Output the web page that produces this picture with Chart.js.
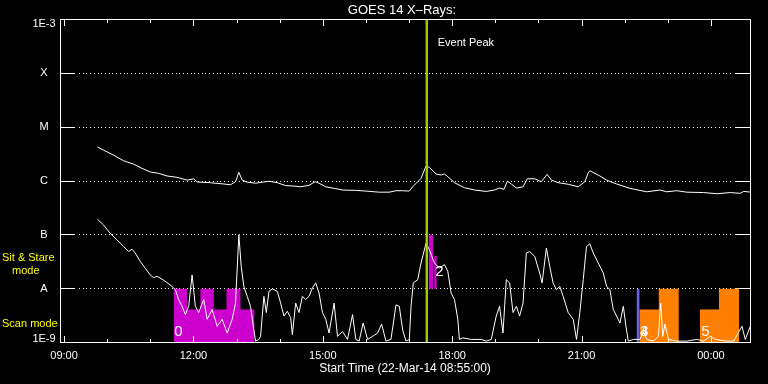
<!DOCTYPE html>
<html>
<head>
<meta charset="utf-8">
<title>GOES 14 X-Rays</title>
<script src="https://cdn.jsdelivr.net/npm/chart.js@4.4.0/dist/chart.umd.min.js"></script>
<style>
  html, body { margin: 0; padding: 0; background: #000; }
  #wrap { width: 768px; height: 384px; }
</style>
</head>
<body>
<div id="wrap"><canvas id="goesChart" width="768" height="384"></canvas></div>
<script>
// times are hours from 00:00 on 22-Mar-14 (values above 24 belong to the next day)
const startHour = 8 + 55 / 60;   // 08:55
const endHour = startHour + 16;

// 1-8 A channel (upper curve), W/m^2
const longTimes = [9.773, 9.912, 10.145, 10.377, 10.61, 10.805, 11.0, 11.191, 11.386, 11.619, 11.852, 12.005, 12.084, 12.393, 12.703, 12.858, 12.975, 13.052, 13.13, 13.247, 13.44, 13.596, 13.75, 13.945, 14.138, 14.293, 14.486, 14.68, 14.819, 14.912, 15.068, 15.3, 15.456, 15.765, 15.998, 16.307, 16.54, 16.696, 16.852, 17.005, 17.084, 17.2, 17.277, 17.393, 17.47, 17.625, 17.742, 17.819, 17.898, 18.052, 18.284, 18.517, 18.789, 18.982, 19.098, 19.2, 19.277, 19.37, 19.487, 19.642, 19.742, 19.912, 20.068, 20.2, 20.3, 20.456, 20.689, 20.921, 21.075, 21.154, 21.191, 21.424, 21.58, 21.812, 22.122, 22.51, 22.819, 22.975, 23.207, 23.44, 23.828, 24.137, 24.447, 24.68, 24.758, 24.944];
const longFlux = [4.3e-6, 3.75e-6, 3.03e-6, 2.38e-6, 2.06e-6, 1.72e-6, 1.47e-6, 1.39e-6, 1.24e-6, 1.17e-6, 1.04e-6, 1.1e-6, 9.6e-7, 9.3e-7, 8.8e-7, 8.5e-7, 9.7e-7, 1.45e-6, 1.04e-6, 9.5e-7, 9.1e-7, 9.5e-7, 9.9e-7, 9.3e-7, 8.2e-7, 8.1e-7, 7.8e-7, 8.3e-7, 9.7e-7, 9.1e-7, 7.8e-7, 7.2e-7, 6.8e-7, 6.7e-7, 6.5e-7, 6.2e-7, 6.2e-7, 6.6e-7, 6.6e-7, 6.5e-7, 7.8e-7, 9.7e-7, 1.12e-6, 1.9e-6, 1.79e-6, 1.35e-6, 1.29e-6, 1.35e-6, 1.2e-6, 9.3e-7, 7.5e-7, 6.8e-7, 6.4e-7, 6.8e-7, 7.4e-7, 7.0e-7, 9.9e-7, 8.8e-7, 7.4e-7, 7.8e-7, 1.1e-6, 1.1e-6, 9.7e-7, 1.33e-6, 1.04e-6, 9.3e-7, 8.7e-7, 7.8e-7, 9.7e-7, 1.42e-6, 1.55e-6, 1.24e-6, 1.04e-6, 8.8e-7, 7.3e-7, 6.3e-7, 6.8e-7, 6.3e-7, 6.6e-7, 6.2e-7, 6.1e-7, 5.8e-7, 6.1e-7, 5.9e-7, 6.4e-7, 6.2e-7];

// 0.5-4 A channel (lower curve), W/m^2
const shortTimes = [9.773, 9.912, 10.068, 10.224, 10.377, 10.494, 10.573, 10.649, 10.766, 10.882, 10.998, 11.075, 11.154, 11.27, 11.386, 11.503, 11.58, 11.656, 11.735, 11.812, 11.889, 11.968, 12.044, 12.121, 12.238, 12.316, 12.433, 12.549, 12.665, 12.782, 12.898, 12.975, 13.052, 13.107, 13.168, 13.247, 13.323, 13.401, 13.44, 13.517, 13.556, 13.633, 13.689, 13.75, 13.828, 13.945, 14.021, 14.098, 14.177, 14.254, 14.293, 14.37, 14.447, 14.526, 14.603, 14.68, 14.758, 14.835, 14.912, 14.991, 15.068, 15.144, 15.261, 15.34, 15.456, 15.572, 15.689, 15.765, 15.842, 15.935, 16.037, 16.154, 16.27, 16.363, 16.463, 16.58, 16.696, 16.773, 16.852, 16.928, 17.005, 17.045, 17.098, 17.2, 17.277, 17.393, 17.47, 17.587, 17.703, 17.819, 17.898, 17.974, 18.052, 18.13, 18.167, 18.245, 18.44, 18.672, 18.789, 18.905, 19.021, 19.098, 19.177, 19.254, 19.331, 19.41, 19.487, 19.563, 19.642, 19.719, 19.796, 19.912, 20.028, 20.084, 20.184, 20.261, 20.339, 20.416, 20.493, 20.572, 20.689, 20.805, 20.882, 20.959, 21.038, 21.114, 21.191, 21.27, 21.386, 21.503, 21.58, 21.656, 21.735, 21.812, 21.889, 21.968, 22.028, 22.084, 22.2, 22.354, 22.433, 22.51, 22.665, 22.782, 22.835, 22.882, 22.935, 23.014, 23.207, 23.44, 23.672, 23.828, 23.982, 24.098, 24.37, 24.526, 24.719, 24.796, 24.912];
const shortFlux = [1.95e-7, 1.53e-7, 1.07e-7, 8.1e-8, 6.1e-8, 4.9e-8, 5.4e-8, 4.6e-8, 3.2e-8, 2.4e-8, 1.8e-8, 1.6e-8, 1.7e-8, 1.5e-8, 1.3e-8, 1.1e-8, 9.6e-9, 6.3e-9, 4.7e-9, 3.3e-9, 4.7e-9, 1.8e-8, 4.7e-9, 3.6e-9, 6.3e-9, 2.7e-9, 4.1e-9, 2.0e-9, 2.7e-9, 1.5e-9, 2.7e-9, 5.4e-9, 1.0e-7, 2.6e-8, 1.1e-8, 7.2e-9, 4.7e-9, 1.7e-9, 1.06e-9, 1.14e-9, 1.3e-9, 7.2e-9, 3.6e-9, 8.9e-9, 9.9e-9, 8.9e-9, 5.4e-9, 3.1e-9, 3.8e-9, 2.9e-9, 1.4e-9, 5.4e-9, 3.6e-9, 7.2e-9, 6.3e-9, 7.2e-9, 1.03e-8, 1.28e-8, 8.3e-9, 3.6e-9, 2.7e-9, 1.5e-9, 5.4e-9, 1.3e-9, 1.6e-9, 1.14e-9, 3.3e-9, 1.14e-9, 1.06e-9, 2.3e-9, 1.14e-9, 1.3e-9, 1.5e-9, 2.2e-9, 1.06e-9, 1.14e-9, 5.0e-9, 4.7e-9, 1.7e-9, 1.06e-9, 1.14e-9, 4.7e-9, 1.28e-8, 1.47e-8, 3.0e-8, 7.0e-8, 5.3e-8, 3.0e-8, 2.4e-8, 2.8e-8, 2.1e-8, 8.3e-9, 6.3e-9, 2.7e-9, 1.14e-9, 1.22e-9, 1.14e-9, 1.14e-9, 1.06e-9, 1.14e-9, 3.1e-9, 4.7e-9, 1.5e-9, 1.47e-8, 1.28e-8, 3.6e-9, 4.7e-9, 3.1e-9, 5.4e-9, 4.6e-8, 4.9e-8, 4.0e-8, 1.95e-8, 1.28e-8, 5.7e-8, 2.6e-8, 1.28e-8, 9.6e-9, 1.1e-8, 7.2e-9, 3.6e-9, 2.7e-9, 1.14e-9, 3.6e-9, 1.47e-8, 6.1e-8, 6.8e-8, 4.6e-8, 3.0e-8, 1.95e-8, 1.1e-8, 9.6e-9, 4.1e-9, 3.1e-9, 2.3e-9, 4.7e-9, 2.0e-9, 1.06e-9, 1.14e-9, 1.14e-9, 1.6e-9, 1.14e-9, 1.06e-9, 1.3e-9, 5.4e-9, 1.3e-9, 2.2e-9, 1.14e-9, 1.06e-9, 1.06e-9, 1.14e-9, 1.06e-9, 1.3e-9, 1.14e-9, 1.06e-9, 1.06e-9, 2.0e-9, 1.14e-9, 2.0e-9];

// observing mode blocks: edges in hours, top level of each step
const scanMagentaEdges = [11.54, 11.851, 12.16, 12.47, 12.765, 13.09, 13.416];
const scanMagentaTops = [1e-8, 4.1e-9, 1e-8, 4.1e-9, 1e-8, 4.1e-9];
const scanOrangeEdgesA = [22.34, 22.79, 23.255];
const scanOrangeTopsA = [4.1e-9, 1e-8];
const scanOrangeEdgesB = [23.74, 24.185, 24.65];
const scanOrangeTopsB = [4.1e-9, 1e-8];
// sit & stare bars: [start, end, low, high]
const sitStareBars = [[17.456, 17.556, 1e-8, 1e-7], [17.58, 17.643, 1e-8, 4.1e-8]];
const blueMarkTime = 22.31;
const eventPeakTime = 17.41;

// block numbers
const blockLabels = ['0', '2', '3', '4', '5'];
const blockLabelTimes = [11.649, 17.703, 22.45, 22.45, 23.87];
const blockLabelFlux = [1.55e-9, 2.07e-8, 1.55e-9, 1.55e-9, 1.55e-9];

// axis labels
const yLevels = [1e-9, 1e-8, 1e-7, 1e-6, 1e-5, 1e-4, 1e-3];
const yLabels = ['1E-9', 'A', 'B', 'C', 'M', 'X', '1E-3'];
const xTickHours = [9, 12, 15, 18, 21, 24];
const xTickLabels = ['09:00', '12:00', '15:00', '18:00', '21:00', '00:00'];

const FONT = '"Liberation Sans", Arial, sans-serif';

const toPoints = (times, values) => times.map((t, i) => ({ x: t, y: values[i] }));

// outline of a stepped block: a flat top over each interval
const stepPoints = (edges, tops) => {
  const pts = [];
  tops.forEach((v, i) => {
    pts.push({ x: edges[i], y: v });
    pts.push({ x: edges[i + 1], y: v });
  });
  return pts;
};

const fillSet = (data, color, fill) => ({
  data: data,
  borderWidth: 0,
  borderColor: 'rgba(0,0,0,0)',
  backgroundColor: color,
  pointRadius: 0,
  fill: fill,
});

const datasets = [
  {
    data: [{ x: eventPeakTime, y: 1e-9 }, { x: eventPeakTime, y: 1e-3 }],
    borderColor: '#a4cc00',
    borderWidth: 2.4,
    pointRadius: 0,
  },
  {
    data: toPoints(longTimes, longFlux),
    borderColor: '#ffffff',
    borderWidth: 1,
    pointRadius: 0,
  },
  {
    data: toPoints(shortTimes, shortFlux),
    borderColor: '#ffffff',
    borderWidth: 1,
    pointRadius: 0,
  },
  {
    data: [{ x: blueMarkTime, y: 1e-9 }, { x: blueMarkTime, y: 1e-8 }],
    borderColor: '#6464e8',
    borderWidth: 2.6,
    pointRadius: 0,
  },
  fillSet(stepPoints(scanMagentaEdges, scanMagentaTops), '#cc00cc', 'start'),
  fillSet(stepPoints(scanOrangeEdgesA, scanOrangeTopsA), '#ff8000', 'start'),
  fillSet(stepPoints(scanOrangeEdgesB, scanOrangeTopsB), '#ff8000', 'start'),
];
sitStareBars.forEach((b) => {
  datasets.push(fillSet([{ x: b[0], y: b[3] }, { x: b[1], y: b[3] }], '#cc00cc', { value: b[2] }));
});

const frame = {
  id: 'frame',
  beforeDatasetsDraw(chart) {
    const { ctx, chartArea: a, scales: { y } } = chart;
    ctx.save();
    ctx.fillStyle = '#ffffff';
    yLevels.slice(1, -1).forEach((v) => {
      const py = Math.floor(y.getPixelForValue(v));
      ctx.fillRect(Math.floor(a.left), py, 15, 1);
      ctx.fillRect(Math.floor(a.right) - 15, py, 15, 1);
      for (let px = a.left + 18.5; px < a.right - 17; px += 3.72) {
        ctx.fillRect(Math.round(px), py, 1, 1);
      }
    });
    ctx.restore();
  },
  afterDatasetsDraw(chart) {
    const { ctx, chartArea: a, scales: { x, y } } = chart;
    const L = Math.floor(a.left), R = Math.floor(a.right);
    const T = Math.floor(a.top), B = Math.floor(a.bottom);
    ctx.save();
    ctx.fillStyle = '#ffffff';
    // box
    ctx.fillRect(L, T, R - L + 1, 1);
    ctx.fillRect(L, B, R - L + 1, 1);
    ctx.fillRect(L, T, 1, B - T + 1);
    ctx.fillRect(R, T, 1, B - T + 1);
    // hour ticks, inside the box
    for (let h = Math.ceil(startHour); h <= endHour; h++) {
      const px = Math.round(x.getPixelForValue(h));
      const major = h % 3 === 0;
      ctx.fillRect(px, T, 1, major ? 7 : 4);
      ctx.fillRect(px, B - (major ? 6 : 3), 1, major ? 6 : 3);
    }
    ctx.textBaseline = 'middle';
    ctx.font = '11px ' + FONT;
    ctx.textAlign = 'center';
    xTickHours.forEach((h, i) => {
      ctx.fillText(xTickLabels[i], x.getPixelForValue(h), 356);
    });
    yLevels.forEach((v, i) => {
      let py = y.getPixelForValue(v);
      if (i === 0) py -= 4;
      if (i === yLevels.length - 1) py += 4;
      ctx.fillText(yLabels[i], 44, py);
    });
    ctx.font = '13px ' + FONT;
    ctx.fillText('GOES 14 X\u2013Rays:', 402, 10);
    ctx.font = '12px ' + FONT;
    ctx.fillText('Start Time (22-Mar-14 08:55:00)', 405, 369);
    ctx.font = '11px ' + FONT;
    ctx.textAlign = 'left';
    ctx.fillText('Event Peak', x.getPixelForValue(eventPeakTime) + 11, 43);
    // mode captions
    ctx.fillStyle = '#ffff00';
    ctx.fillText('Sit & Stare', 2, 258);
    ctx.fillText('mode', 12, 271);
    ctx.fillText('Scan mode', 2, 324);
    // block numbers
    ctx.fillStyle = '#ffffff';
    ctx.font = '15px ' + FONT;
    ctx.textAlign = 'center';
    blockLabels.forEach((s, i) => {
      ctx.fillText(s, x.getPixelForValue(blockLabelTimes[i]), y.getPixelForValue(blockLabelFlux[i]));
    });
    ctx.restore();
  },
};

Chart.defaults.font.family = FONT;

new Chart(document.getElementById('goesChart'), {
  type: 'line',
  data: { datasets: datasets },
  options: {
    responsive: false,
    animation: false,
    devicePixelRatio: 1,
    layout: { padding: { left: 60.5, top: 19.5, right: 17.5, bottom: 41.5 } },
    plugins: { legend: { display: false }, tooltip: { enabled: false } },
    elements: { line: { tension: 0 } },
    scales: {
      x: { type: 'linear', min: startHour, max: endHour, display: false },
      y: { type: 'logarithmic', min: 1e-9, max: 1e-3, display: false },
    },
  },
  plugins: [frame],
});
</script>
</body>
</html>
